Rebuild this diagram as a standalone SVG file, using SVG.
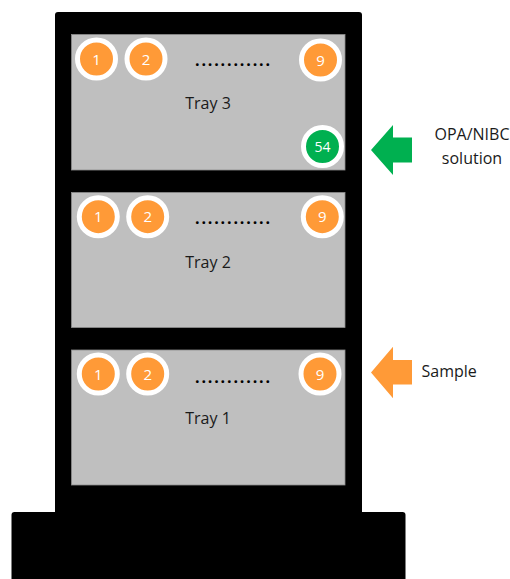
<svg xmlns="http://www.w3.org/2000/svg" width="510" height="579" viewBox="0 0 510 579">
<style>
.lbl{font-family:"Open Sans","Noto Sans","Liberation Sans",sans-serif;font-size:16px;fill:#1a1a1a}
.num{font-family:"Open Sans","Noto Sans","Liberation Sans",sans-serif;font-size:15px;fill:#fff;text-anchor:middle}
.well{fill:#FF9A37;stroke:#fff;stroke-width:5}
.green{fill:#00B050;stroke:#fff;stroke-width:5}
.tray{fill:#BFBFBF;stroke:#8c8c8c;stroke-width:0.8}
.dots{font-family:"Open Sans","Noto Sans","Liberation Sans",sans-serif;font-size:16px;font-weight:bold;fill:#000}
</style>
<rect width="510" height="579" fill="#fff"/>
<g id="rack">
<rect x="55" y="12" width="307" height="520" rx="3" fill="#000"/>
<rect x="11.5" y="512" width="394" height="80" rx="3" fill="#000"/>
</g>
<g id="tray3">
<rect class="tray" x="71.5" y="34.5" width="273.5" height="135.5"/>
<circle class="well" cx="96.5" cy="59" r="19"/><text class="num" x="96.5" y="64.5">1</text>
<circle class="well" cx="146" cy="59" r="19"/><text class="num" x="146" y="64.5">2</text>
<circle class="well" cx="320.5" cy="60" r="19"/><text class="num" x="320.5" y="65.5">9</text>
<text class="dots" x="195" y="66" textLength="75" lengthAdjust="spacing">............</text>
<text class="lbl" x="208" y="109" text-anchor="middle">Tray 3</text>
<circle class="green" cx="322.5" cy="146.5" r="19"/><text class="num" x="322.5" y="151.5" style="font-size:14px">54</text>
</g>
<g id="tray2">
<rect class="tray" x="71.5" y="192.5" width="273.5" height="135"/>
<circle class="well" cx="98.3" cy="216.7" r="19"/><text class="num" x="98.3" y="222.2">1</text>
<circle class="well" cx="147.7" cy="216.7" r="19"/><text class="num" x="147.7" y="222.2">2</text>
<circle class="well" cx="322.3" cy="216.7" r="19"/><text class="num" x="322.3" y="222.2">9</text>
<text class="dots" x="195" y="223.5" textLength="75" lengthAdjust="spacing">............</text>
<text class="lbl" x="208" y="267.5" text-anchor="middle">Tray 2</text>
</g>
<g id="tray1">
<rect class="tray" x="71.5" y="350" width="273.5" height="135"/>
<circle class="well" cx="98.3" cy="374" r="19"/><text class="num" x="98.3" y="379.5">1</text>
<circle class="well" cx="147.7" cy="374" r="19"/><text class="num" x="147.7" y="379.5">2</text>
<circle class="well" cx="320" cy="374" r="19"/><text class="num" x="320" y="379.5">9</text>
<text class="dots" x="195" y="383" textLength="75" lengthAdjust="spacing">............</text>
<text class="lbl" x="208" y="424" text-anchor="middle">Tray 1</text>
</g>
<g id="connectors">
<polygon fill="#00B050" points="371,150 393,125 393,137.5 412,137.5 412,162.5 393,162.5 393,175"/>
<polygon fill="#FF9A37" points="371,372.5 393,346.7 393,360 412,360 412,384.5 393,384.5 393,398.3"/>
</g>
<g id="opa-label">
<text class="lbl" x="472" y="140" text-anchor="middle">OPA/NIBC</text>
<text class="lbl" x="472" y="164" text-anchor="middle">solution</text>
</g>
<g id="sample-label">
<text class="lbl" x="421.5" y="377">Sample</text>
</g>
</svg>
